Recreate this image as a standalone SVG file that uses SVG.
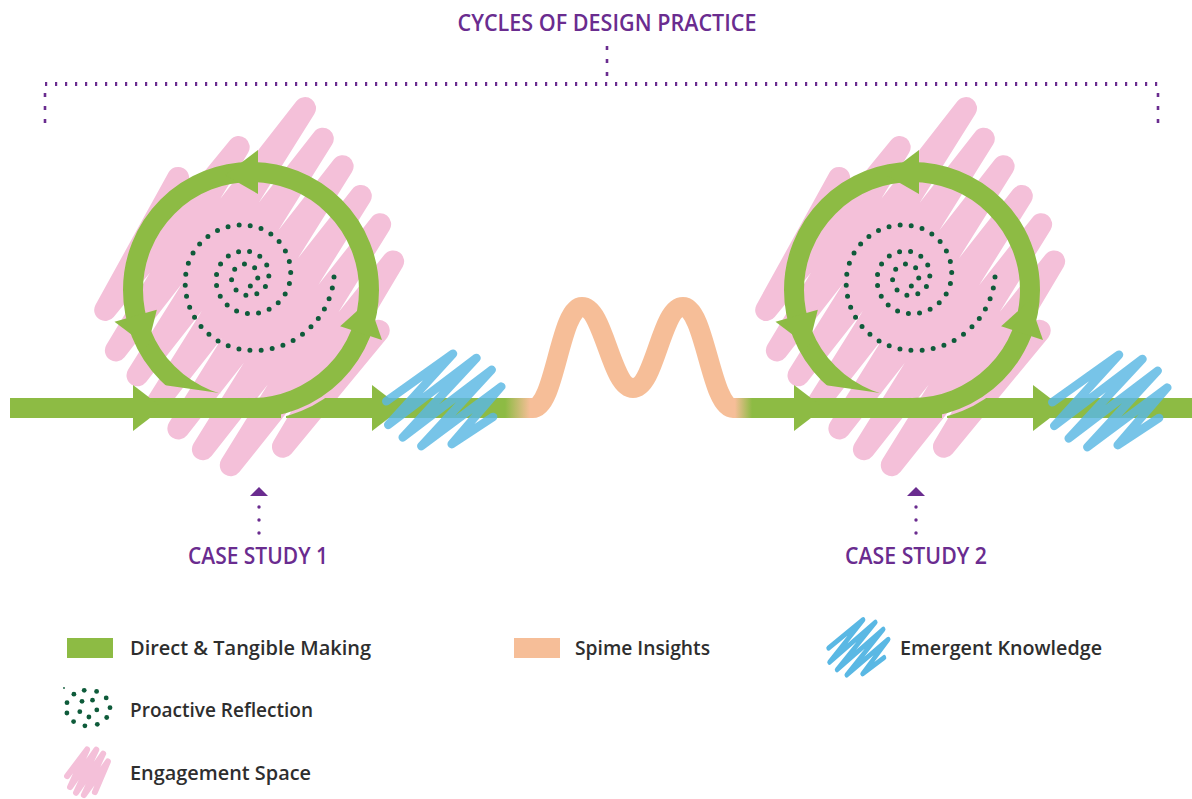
<svg xmlns="http://www.w3.org/2000/svg" xmlns:xlink="http://www.w3.org/1999/xlink" width="1192" height="799" viewBox="0 0 1192 799">
  <style>
    .green{fill:#8DBB44}
    .peach{fill:#F6BE98}
    .ring{fill:none;stroke:#8DBB44;stroke-width:20}
    .pink{fill:none;stroke:#F4C0D9;stroke-width:22;stroke-linecap:round;stroke-linejoin:round}
    .pink-s{fill:none;stroke:#F4C0D9;stroke-width:6;stroke-linecap:round;stroke-linejoin:round}
    .blue{fill:none;stroke:#5AB8E4;stroke-width:8.5;stroke-linecap:round;stroke-linejoin:round}
    .spiral{fill:none;stroke:#0E5B3A;stroke-width:5;stroke-linecap:round;stroke-dasharray:0 11.2}
    .dot{fill:#0E5B3A}
    .purple{fill:#6A2C8F}
    .tick{fill:none;stroke:#6A2C8F}
    .label{font-family:"Open Sans","Liberation Sans",sans-serif;font-weight:600;fill:#6A2C8F}
    .legend{font-family:"Open Sans","Liberation Sans",sans-serif;font-weight:600;font-size:20px;fill:#2E2E2E}
  </style>
  <defs>
    <!-- green to peach to green along the flow line -->
    <linearGradient id="flow" gradientUnits="userSpaceOnUse" x1="0" y1="0" x2="1192" y2="0">
      <stop offset="0" stop-color="#8DBB44"/>
      <stop offset="0.4237" stop-color="#8DBB44"/>
      <stop offset="0.4446" stop-color="#F6BE98"/>
      <stop offset="0.6166" stop-color="#F6BE98"/>
      <stop offset="0.6309" stop-color="#8DBB44"/>
      <stop offset="1" stop-color="#8DBB44"/>
    </linearGradient>
    <!-- ring end cut at the lower left -->
    <clipPath id="ringCut">
      <path d="M-140,-140 H140 V140 H10 V109 L-140,87.6 Z"/>
    </clipPath>
    <!-- thin gap between the ring and the outgoing line -->
    <mask id="gap1" maskUnits="userSpaceOnUse" x="0" y="0" width="1192" height="799">
      <rect width="1192" height="799" fill="#fff"/>
      <circle cx="251" cy="290" r="131" fill="#000"/>
    </mask>
    <mask id="gap2" maskUnits="userSpaceOnUse" x="0" y="0" width="1192" height="799">
      <rect width="1192" height="799" fill="#fff"/>
      <circle cx="912" cy="290" r="131" fill="#000"/>
    </mask>
    <path id="ringArrow" class="green" d="M7,-140 L7,-96 L-26,-115 Z"/>
    <path id="lineArrow" class="green" d="M0,-23 L0,23 L30,0 Z"/>
    <!-- one design cycle, drawn around its own centre -->
    <g id="cycle">
      <polyline class="pink" transform="rotate(-5)" points="-62.8,-118 -147,7.2 0.2,-143.5 -139.9,48.4 69.7,-176.5 -120.5,75.1 84.7,-144.4 -103.1,104.1 102.1,-115.4 -84.4,131.6 117.6,-84.1 -61.8,154.4 134.4,-54.3 -35.4,172.7 144.1,-16.1 18.2,158.9 123.7,51.7"/>
      <circle class="ring" r="118" clip-path="url(#ringCut)"/>
      <use xlink:href="#ringArrow"/>
      <use xlink:href="#ringArrow" transform="rotate(108)"/>
      <use xlink:href="#ringArrow" transform="rotate(254)"/>
      <path class="spiral" transform="translate(-4,-13)" d="M87,0 A80.08,80.08 0 0 1 0,73.16 A67.34,67.34 0 0 1 -61.52,0 A56.63,56.63 0 0 1 0,-51.73 A47.62,47.62 0 0 1 43.5,0 A40.04,40.04 0 0 1 0,36.58 A33.67,33.67 0 0 1 -30.76,0 A28.32,28.32 0 0 1 0,-25.87 A23.81,23.81 0 0 1 21.75,0 A20.02,20.02 0 0 1 0,18.29 A16.84,16.84 0 0 1 -15.38,0 A14.16,14.16 0 0 1 0,-12.93 A11.91,11.91 0 0 1 10.88,0 A10.02,10.02 0 0 1 0,9.15"/>
    </g>
    <polyline id="blueScrib" class="blue" points="-56.7,0.2 9.9,-47.2 -54.8,23.9 33.4,-43 -40.3,36.4 48.6,-31.2 -21.7,45.1 58.2,-14.4 8.7,43.1 50.1,15.9"/>
  </defs>

  <rect width="1192" height="799" fill="#fff"/>

  <!-- title and bracket -->
  <g id="title">
    <text class="label" x="607" y="31" font-size="23" text-anchor="middle" textLength="299" lengthAdjust="spacingAndGlyphs">CYCLES OF DESIGN PRACTICE</text>
    <line class="tick" x1="607" y1="46" x2="607" y2="82" stroke-width="2.6" stroke-dasharray="4 9"/>
    <line class="tick" x1="45" y1="84" x2="1160" y2="84" stroke-width="4" stroke-dasharray="2.2 7.8"/>
    <line class="tick" x1="45" y1="93" x2="45" y2="126" stroke-width="2.6" stroke-dasharray="4 9"/>
    <line class="tick" x1="1158" y1="93" x2="1158" y2="126" stroke-width="2.6" stroke-dasharray="4 9"/>
  </g>

  <!-- case study cycles -->
  <g id="case-study-1">
    <use xlink:href="#cycle" transform="translate(251,290)"/>
  </g>
  <g id="case-study-2">
    <use xlink:href="#cycle" transform="translate(912,290)"/>
  </g>

  <!-- flow line, spime wave and direction arrows -->
  <g id="connectors">
    <path d="M10,408 H281" fill="none" stroke="#8DBB44" stroke-width="20"/>
    <path d="M286,408 H533 C555,408 560,307 582,307 C604,307 611,388 633,388 C655,388 661,307 683,307 C705,307 711,408 733,408 H942" fill="none" stroke="url(#flow)" stroke-width="20" mask="url(#gap1)"/>
    <path d="M947,408 H1192" fill="none" stroke="#8DBB44" stroke-width="20" mask="url(#gap2)"/>
    <use xlink:href="#lineArrow" transform="translate(133,408)"/>
    <use xlink:href="#lineArrow" transform="translate(372,408)"/>
    <use xlink:href="#lineArrow" transform="translate(794,408)"/>
    <use xlink:href="#lineArrow" transform="translate(1033,408)"/>
  </g>

  <!-- emergent knowledge -->
  <g id="knowledge-1" opacity="0.82">
    <use xlink:href="#blueScrib" transform="translate(443,401)"/>
  </g>
  <g id="knowledge-2" opacity="0.82">
    <use xlink:href="#blueScrib" transform="translate(1109,402)"/>
  </g>

  <!-- case study pointers -->
  <g id="label-case-1">
    <path class="purple" d="M259,487 L268,496 L250,496 Z"/>
    <circle class="purple" cx="259" cy="507" r="1.7"/>
    <circle class="purple" cx="259" cy="520" r="1.7"/>
    <circle class="purple" cx="259" cy="533" r="1.7"/>
    <text class="label" x="188" y="564" font-size="23" textLength="140" lengthAdjust="spacingAndGlyphs">CASE STUDY 1</text>
  </g>
  <g id="label-case-2">
    <path class="purple" d="M916,487 L925,496 L907,496 Z"/>
    <circle class="purple" cx="916" cy="507" r="1.7"/>
    <circle class="purple" cx="916" cy="520" r="1.7"/>
    <circle class="purple" cx="916" cy="533" r="1.7"/>
    <text class="label" x="845" y="564" font-size="23" textLength="142" lengthAdjust="spacingAndGlyphs">CASE STUDY 2</text>
  </g>

  <!-- legend -->
  <g id="legend">
    <rect class="green" x="67" y="638" width="46" height="20"/>
    <text class="legend" x="130" y="655" textLength="241" lengthAdjust="spacingAndGlyphs">Direct &amp; Tangible Making</text>

    <g id="legend-dots">
      <circle class="dot" cx="64" cy="688" r="0.9"/>
      <circle class="dot" cx="84.2" cy="690.3" r="2.4"/>
      <circle class="dot" cx="96.6" cy="691.4" r="2.4"/>
      <circle class="dot" cx="106.2" cy="697.9" r="2.4"/>
      <circle class="dot" cx="110" cy="707.7" r="2.4"/>
      <circle class="dot" cx="106.7" cy="717.5" r="2.4"/>
      <circle class="dot" cx="97.3" cy="724.3" r="2.4"/>
      <circle class="dot" cx="84.9" cy="725.8" r="2.4"/>
      <circle class="dot" cx="73.6" cy="721.6" r="2.4"/>
      <circle class="dot" cx="66.9" cy="713" r="2.4"/>
      <circle class="dot" cx="67" cy="702.7" r="2.4"/>
      <circle class="dot" cx="73.9" cy="694.2" r="2.4"/>
      <circle class="dot" cx="92.5" cy="700.2" r="2.4"/>
      <circle class="dot" cx="96.8" cy="709.9" r="2.4"/>
      <circle class="dot" cx="88.9" cy="717" r="2.4"/>
      <circle class="dot" cx="79.8" cy="711.7" r="2.4"/>
      <circle class="dot" cx="82" cy="701.3" r="2.4"/>
    </g>
    <text class="legend" x="130" y="717" textLength="183" lengthAdjust="spacingAndGlyphs">Proactive Reflection</text>

    <polyline class="pink-s" points="67.1,776.1 87.1,749.5 70.1,787.1 96.3,749.6 76,792.8 103.2,753.6 83.9,795.1 107.9,761.5 94.9,792.1"/>
    <text class="legend" x="130" y="780" textLength="181" lengthAdjust="spacingAndGlyphs">Engagement Space</text>

    <rect class="peach" x="514" y="638" width="46" height="20"/>
    <text class="legend" x="575" y="655" textLength="135" lengthAdjust="spacingAndGlyphs">Spime Insights</text>

    <use xlink:href="#blueScrib" transform="translate(858,648) scale(0.52,0.6)"/>
    <text class="legend" x="900" y="655" textLength="202" lengthAdjust="spacingAndGlyphs">Emergent Knowledge</text>
  </g>
</svg>
